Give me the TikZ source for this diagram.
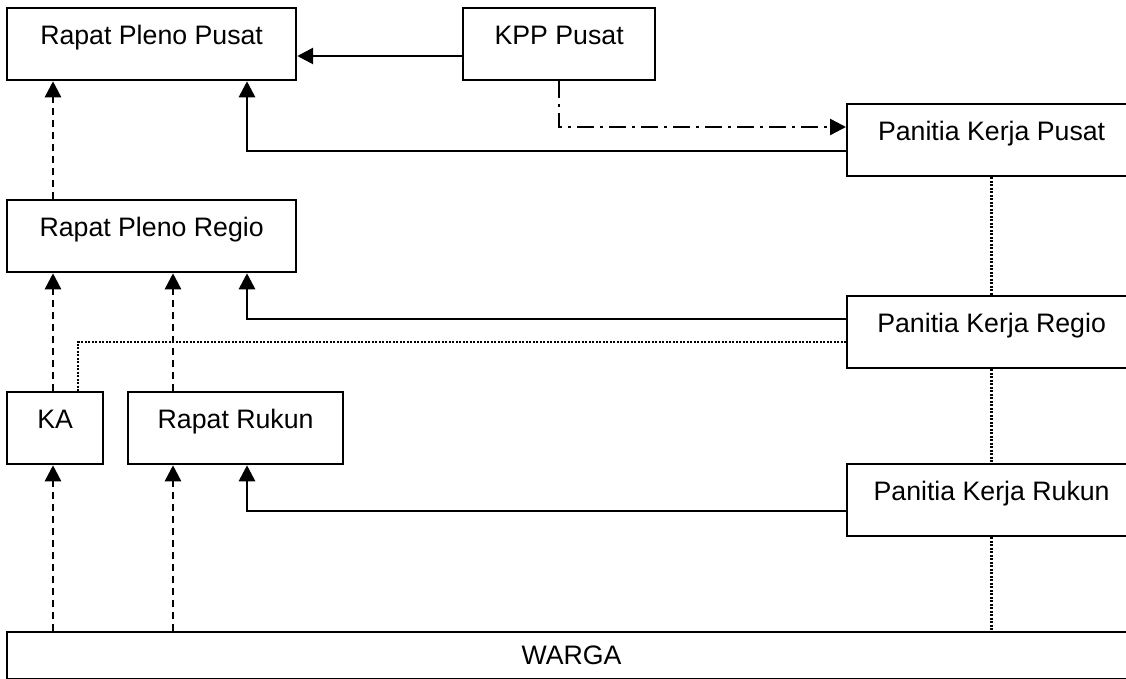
\documentclass[tikz,border=0pt]{standalone}
\usepackage{fontspec}
\setmainfont{Liberation Sans}
\usepackage{tikz}
\usetikzlibrary{arrows.meta, positioning, calc}

\tikzset{
    orgbox/.style={draw, line width=1.3pt, anchor=north west, inner sep=0pt,
        minimum height=1.44cm, text height=8pt, text depth=8pt},
    solidarrow/.style={line width=1.6pt, -{Triangle[length=0.32cm, width=0.32cm]}},
    dashedarrow/.style={line width=1.4pt, dash pattern=on 0.14cm off 0.1cm,
        -{Triangle[length=0.32cm, width=0.32cm]}},
    dashdotarrow/.style={line width=1.4pt, dash pattern=on 0.34cm off 0.12cm on 0.06cm off 0.12cm,
        -{Triangle[length=0.32cm, width=0.32cm]}},
    dottedline/.style={line width=1.5pt, dash pattern=on 0.04cm off 0.03cm}
}

\begin{document}
\begin{tikzpicture}[x=0.02cm, y=-0.02cm, font=\fontsize{15.2}{18}\selectfont]
    \useasboundingbox (0,0) rectangle (1126,679);
    \clip (0,0) rectangle (1126,679);

    % Pusat level
    \node[orgbox, minimum width=5.78cm] (rpp) at (6,7) {Rapat Pleno Pusat};
    \node[orgbox, minimum width=3.84cm] (kpp) at (462,7) {KPP Pusat};
    \node[orgbox, minimum width=5.78cm] (pkp) at (846,103) {Panitia Kerja Pusat};

    % Regio level
    \node[orgbox, minimum width=5.78cm] (rpr) at (6,199) {Rapat Pleno Regio};
    \node[orgbox, minimum width=5.78cm] (pkr) at (846,295) {Panitia Kerja Regio};

    % Rukun level
    \node[orgbox, minimum width=1.92cm] (ka) at (6,391) {KA};
    \node[orgbox, minimum width=4.3cm] (rr) at (127,391) {Rapat Rukun};
    \node[orgbox, minimum width=5.78cm] (pkru) at (846,463) {Panitia Kerja Rukun};

    % Warga
    \node[draw, line width=1.3pt, anchor=north west, inner sep=0pt,
        minimum width=22.58cm, minimum height=0.94cm] (warga) at (6,631) {WARGA};

    % Solid arrows
    \draw[solidarrow] (kpp.west |- 0,56) -- (rpp.east |- 0,56);
    \draw[solidarrow] (pkp.west |- 0,151) -| (rpp.south -| 247,0);
    \draw[solidarrow] (pkr.west |- 0,319) -| (rpr.south -| 247,0);
    \draw[solidarrow] (pkru.west |- 0,511) -| (rr.south -| 247,0);

    % Dash-dot arrow
    \draw[dashdotarrow] (kpp.south) |- (pkp.west |- 0,127);

    % Dashed arrows
    \draw[dashedarrow] (rpr.north -| 53,0) -- (rpp.south -| 53,0);
    \draw[dashedarrow] (ka.north -| 53,0) -- (rpr.south -| 53,0);
    \draw[dashedarrow] (rr.north -| 173,0) -- (rpr.south -| 173,0);
    \draw[dashedarrow] (warga.north -| 53,0) -- (ka.south -| 53,0);
    \draw[dashedarrow] (warga.north -| 173,0) -- (rr.south -| 173,0);

    % Dotted lines
    \draw[dottedline] (pkp.south) -- (pkr.north);
    \draw[dottedline] (pkr.south) -- (pkru.north);
    \draw[dottedline] (pkru.south) -- (warga.north -| pkru.south);
    \draw[dottedline] (pkr.west |- 0,342) -| (ka.north -| 78,0);
\end{tikzpicture}
\end{document}
